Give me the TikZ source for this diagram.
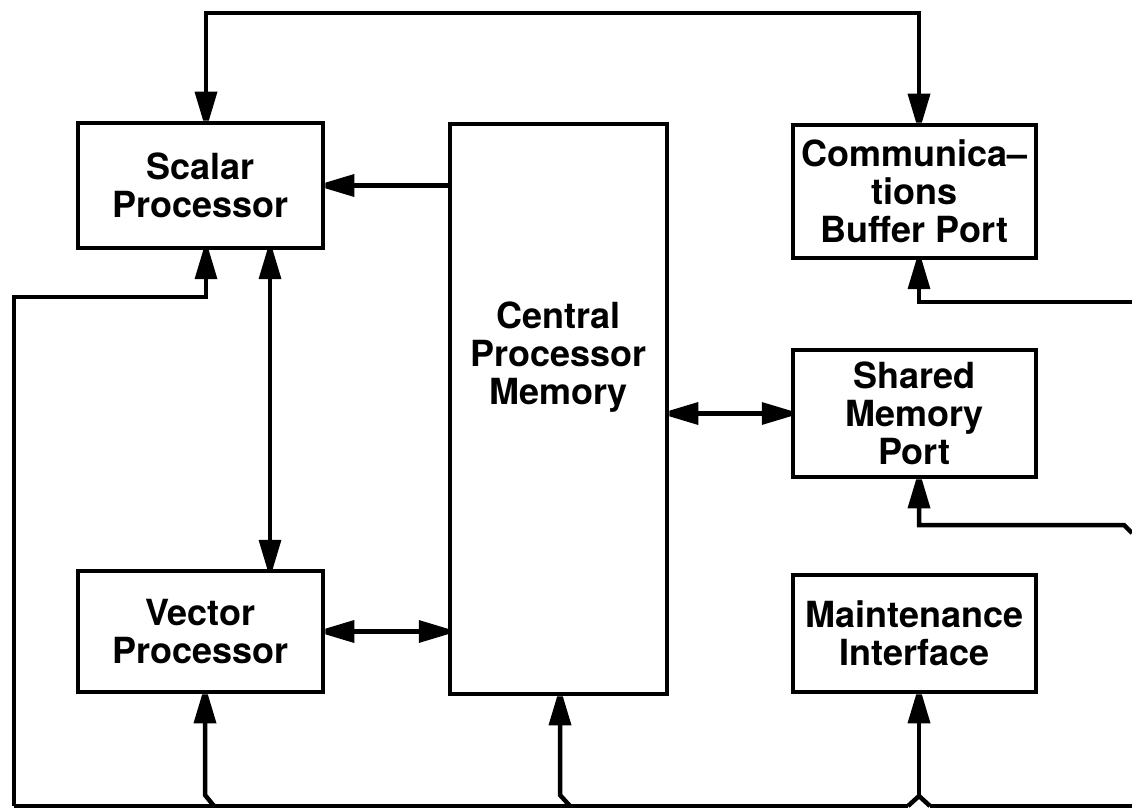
\documentclass[tikz,border=0pt]{standalone}
\usepackage{fontspec}
\setmainfont{TeX Gyre Heros}
\usetikzlibrary{arrows.meta}

% Solid arrow head with a slightly blunted point
\pgfdeclarearrow{
  name = BluntTip,
  defaults = { length = 29pt, width = 23pt },
  parameters = { \the\pgfarrowlength,\the\pgfarrowwidth },
  setup code = {
    \pgfarrowssettipend{0pt}
    \pgfarrowssetlineend{-0.5\pgfarrowlength}
    \pgfarrowssetvisualbackend{-\pgfarrowlength}
    \pgfarrowssetbackend{-\pgfarrowlength}
    \pgfarrowsupperhullpoint{0pt}{0.12\pgfarrowwidth}
    \pgfarrowsupperhullpoint{-\pgfarrowlength}{0.5\pgfarrowwidth}
    \pgfarrowssavethe\pgfarrowlength
    \pgfarrowssavethe\pgfarrowwidth
  },
  drawing code = {
    \pgfpathmoveto{\pgfqpoint{0pt}{0.12\pgfarrowwidth}}
    \pgfpathlineto{\pgfqpoint{0pt}{-0.12\pgfarrowwidth}}
    \pgfpathlineto{\pgfqpoint{-\pgfarrowlength}{-0.5\pgfarrowwidth}}
    \pgfpathlineto{\pgfqpoint{-\pgfarrowlength}{0.5\pgfarrowwidth}}
    \pgfpathclose
    \pgfusepathqfill
  }
}

\tikzset{
  unit/.style={draw, line width=4.5pt, inner sep=0pt, align=center,
    font=\bfseries\fontsize{36}{38}\selectfont},
  caption/.style={inner sep=0pt, align=center,
    font=\bfseries\fontsize{36}{38}\selectfont},
  wire/.style={line width=4.5pt, line join=miter},
  feed/.style={wire, -BluntTip},
  duplex/.style={wire, BluntTip-BluntTip},
}

\begin{document}
\begin{tikzpicture}[x=1pt, y=-1pt]
  \useasboundingbox (0,0) rectangle (1132,810);

  % processing units
  \node[unit, minimum width=245pt, minimum height=125pt] (scalar) at (200.5,185.5)
    {Scalar\\Processor};
  \node[unit, minimum width=245pt, minimum height=121pt] (vector) at (200.5,631.5)
    {Vector\\Processor};
  \node[unit, minimum width=217pt, minimum height=570pt] (cpm) at (558.5,409) {};
  \node[caption] (cpmtext) at (558.5,357) {Central\\Processor\\Memory};

  % ports
  \node[unit, minimum width=243pt, minimum height=133pt] (comm) at (914.5,191.5)
    {Communica–\\tions\\Buffer Port};
  \node[unit, minimum width=243pt, minimum height=127pt] (shared) at (914.5,413.5)
    {Shared\\Memory\\Port};
  \node[unit, minimum width=243pt, minimum height=117pt] (maint) at (914.5,633.5)
    {Maintenance\\Interface};

  % column positions of the vertical runs
  \coordinate (xA) at (206,0);
  \coordinate (xB) at (270,0);
  \coordinate (xC) at (560,0);
  \coordinate (xD) at (919,0);

  % overhead link between scalar processor and communications port
  \coordinate (topL) at (206,13);
  \coordinate (topR) at (919,13);
  \draw[duplex] (xA |- scalar.north) -- (topL) -- (topR) -- (xD |- comm.north);

  % memory and processor links
  \draw[feed] (cpm.west |- scalar.east) -- (scalar.east);
  \draw[duplex] (xB |- scalar.south) -- (xB |- vector.north);
  \draw[duplex] (vector.east) -- (cpm.west |- vector.east);
  \draw[duplex] (cpm.east |- shared.west) -- (shared.west);

  % bottom bus
  \coordinate (busBL) at (14,806);
  \coordinate (loopL) at (14,297);
  \coordinate (loopR) at (206,297);
  \coordinate (vJoin) at (214,806);
  \coordinate (vKink) at (205,795);
  \coordinate (cJoin) at (570,806);
  \coordinate (cKink) at (560,795);
  \coordinate (mL) at (908,806);
  \coordinate (mY) at (919,796);
  \coordinate (mR) at (930,806);
  \coordinate (busBR) at (1132,806);

  \draw[wire] (busBL) -- (mL);
  \draw[wire] (mR) -- (busBR);
  \draw[feed] (busBL) -- (loopL) -- (loopR) -- (xA |- scalar.south);
  \draw[feed] (vJoin) -- (vKink) -- (vKink |- vector.south);
  \draw[feed] (cJoin) -- (cKink) -- (xC |- cpm.south);
  \draw[wire] (mL) -- (mY) -- (mR);
  \draw[feed] (mY) -- (xD |- maint.south);

  % lines entering from the right edge
  \coordinate (commR) at (1132,302);
  \draw[feed] (commR) -- (commR -| xD) -- (xD |- comm.south);
  \coordinate (sharedR) at (1132,533);
  \coordinate (sharedK) at (1124,525);
  \draw[feed] (sharedR) -- (sharedK) -- (sharedK -| xD) -- (xD |- shared.south);
\end{tikzpicture}
\end{document}
